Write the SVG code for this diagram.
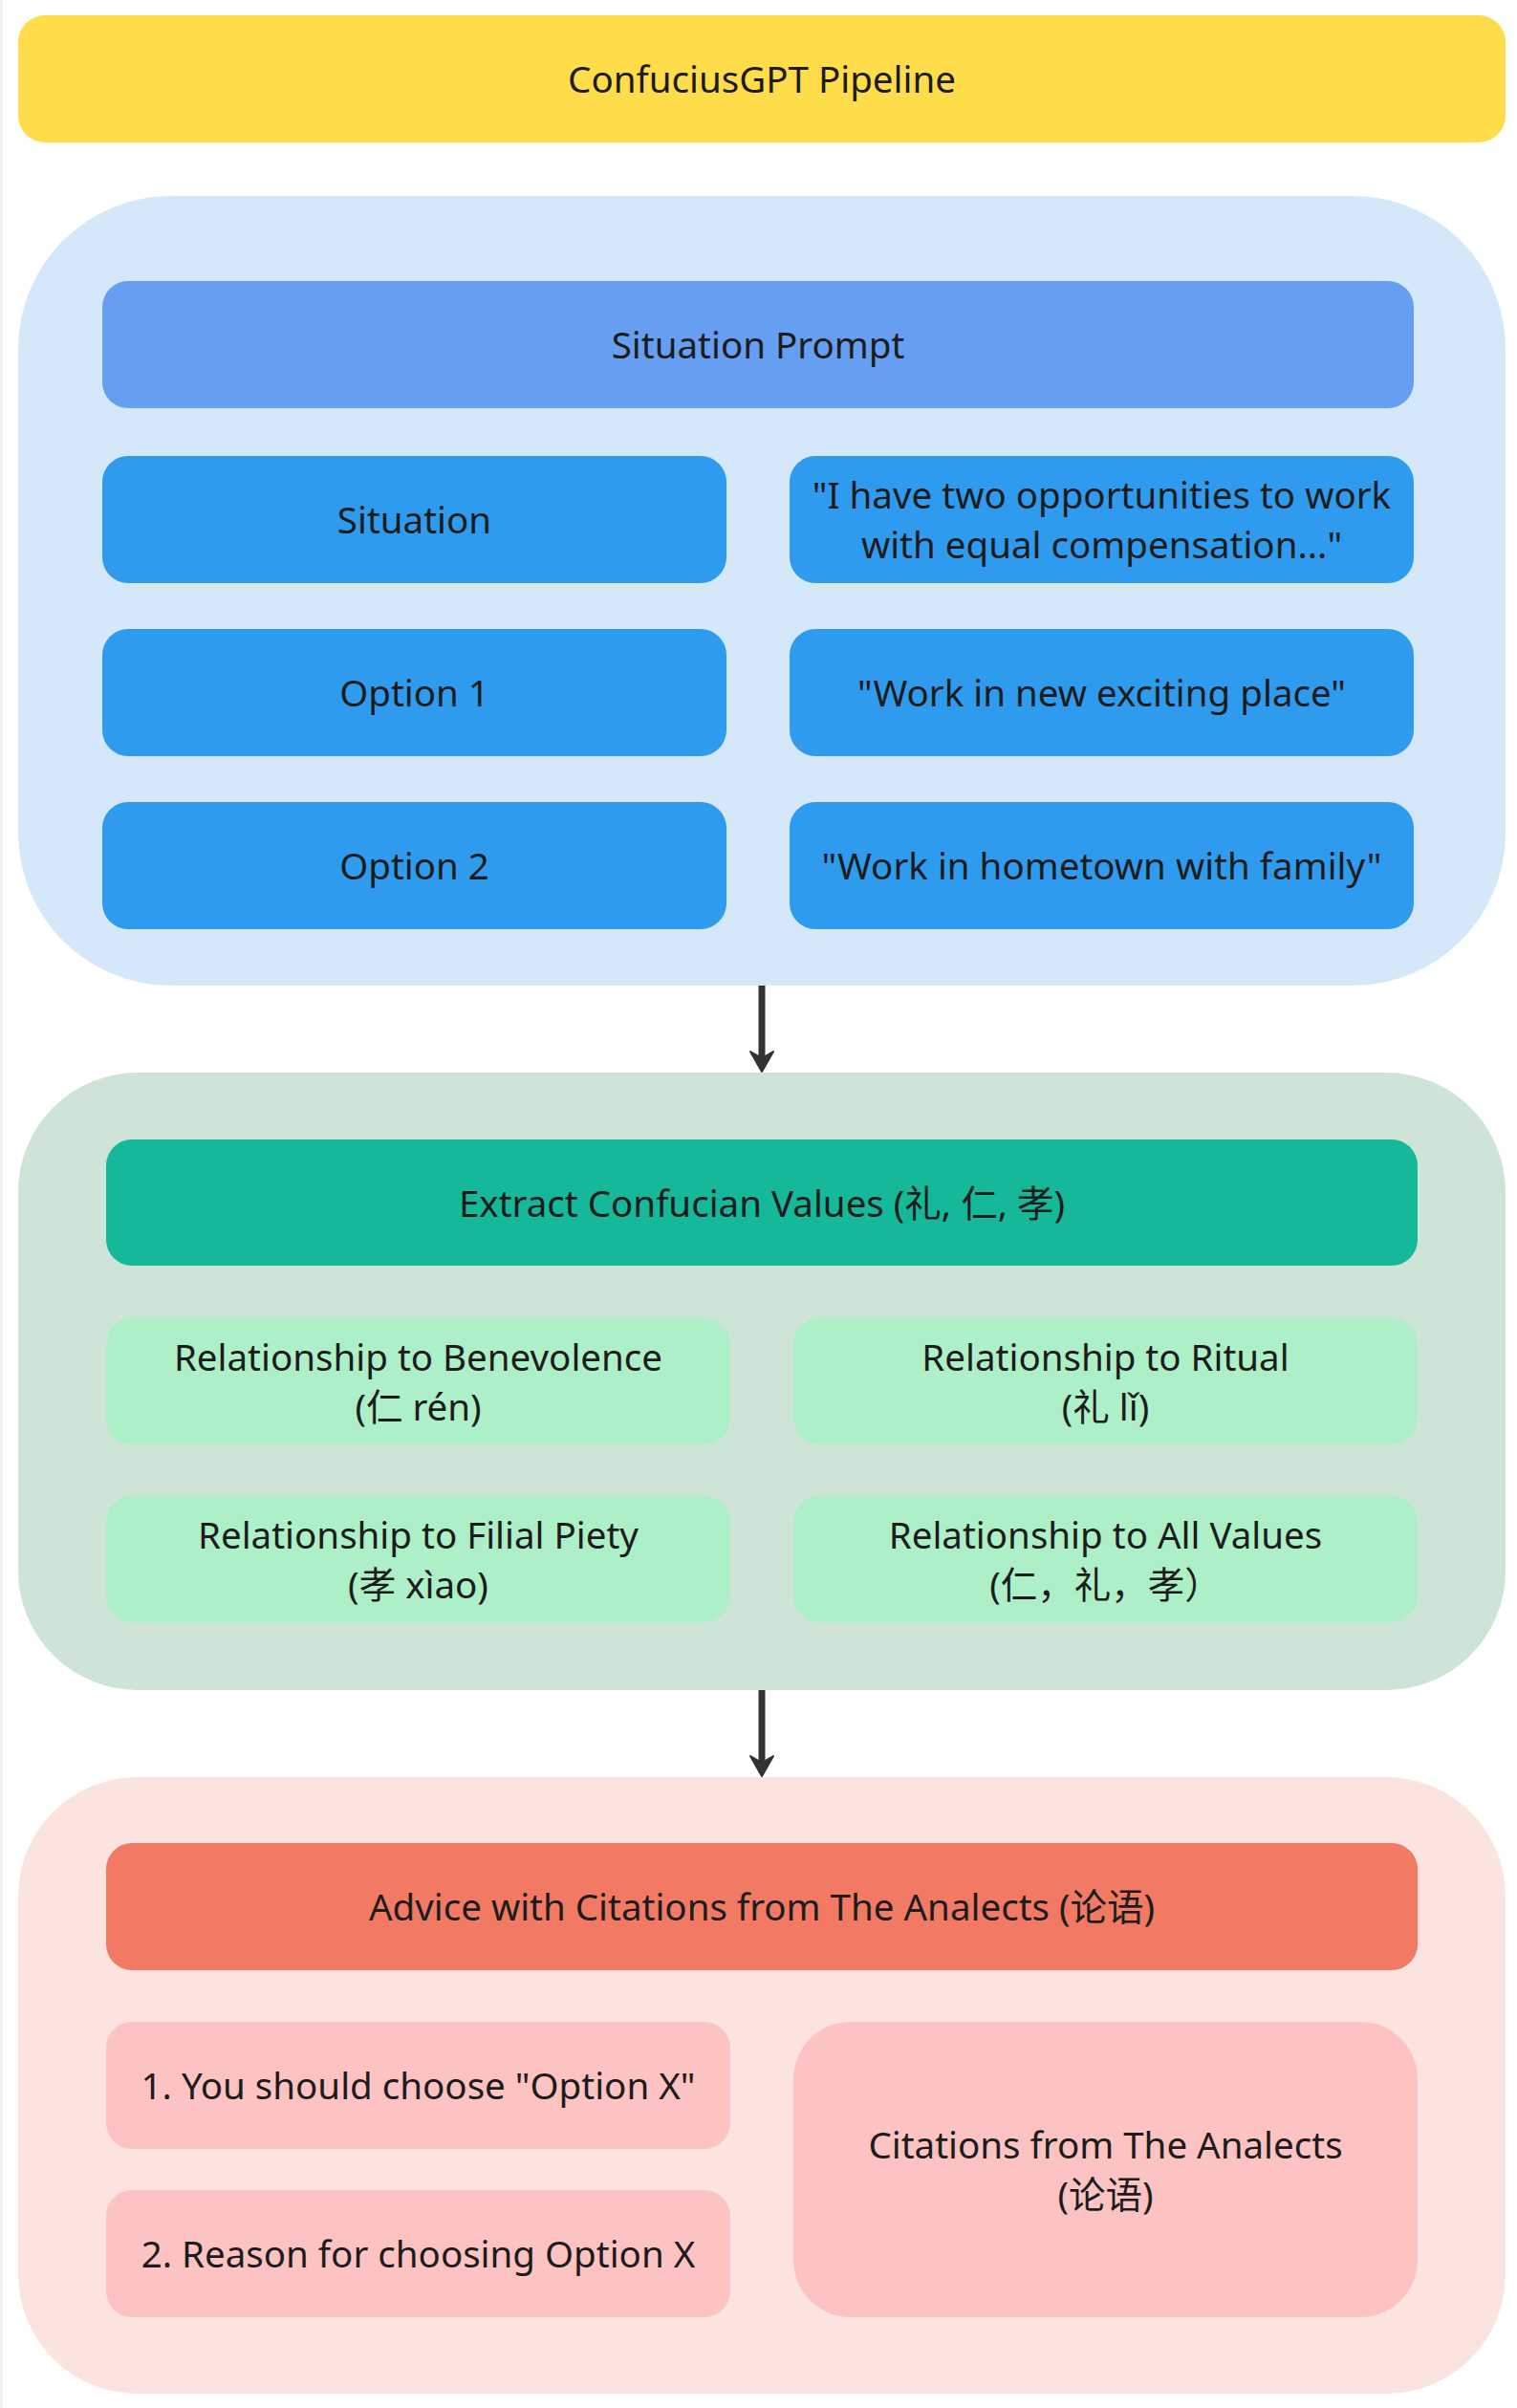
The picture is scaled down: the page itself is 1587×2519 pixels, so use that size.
<svg xmlns="http://www.w3.org/2000/svg" width="1587" height="2519" viewBox="0 0 1587 2519">
  <style>
    .t { font-family: "Noto Sans", "Noto Sans CJK SC", "Open Sans", sans-serif; font-size: 38.5px; fill: #1c1c1c; text-anchor: middle; }
    .conn { stroke: #333333; stroke-width: 7; fill: none; }
    .head { fill: #333333; stroke: #333333; stroke-width: 2; stroke-linejoin: round; }
  </style>
  <rect x="0" y="0" width="1587" height="2519" fill="#ffffff"/>
  <rect x="0" y="0" width="3" height="2519" fill="#f2f2f2"/>

  <g id="title">
    <rect x="19" y="16" width="1556" height="133" rx="28" fill="#FFDC4A"/>
    <text class="t" x="797" y="97">ConfuciusGPT Pipeline</text>
  </g>

  <g id="situation-group">
    <rect x="19" y="205" width="1556" height="826" rx="160" fill="#D4E8F9"/>
  </g>
  <g id="situation-prompt">
    <rect x="107" y="294" width="1372" height="133" rx="27" fill="#669EF1"/>
    <text class="t" x="793" y="375">Situation Prompt</text>
  </g>
  <g id="situation">
    <rect x="107" y="477" width="653" height="133" rx="27" fill="#2F9BEF"/>
    <text class="t" x="433.5" y="558">Situation</text>
  </g>
  <g id="situation-text">
    <rect x="826" y="477" width="653" height="133" rx="27" fill="#2F9BEF"/>
    <text class="t" x="1152.5" y="532">"I have two opportunities to work</text>
    <text class="t" x="1152.5" y="584">with equal compensation..."</text>
  </g>
  <g id="option1">
    <rect x="107" y="658" width="653" height="133" rx="27" fill="#2F9BEF"/>
    <text class="t" x="433.5" y="739">Option 1</text>
  </g>
  <g id="option1-text">
    <rect x="826" y="658" width="653" height="133" rx="27" fill="#2F9BEF"/>
    <text class="t" x="1152.5" y="739">"Work in new exciting place"</text>
  </g>
  <g id="option2">
    <rect x="107" y="839" width="653" height="133" rx="27" fill="#2F9BEF"/>
    <text class="t" x="433.5" y="920">Option 2</text>
  </g>
  <g id="option2-text">
    <rect x="826" y="839" width="653" height="133" rx="27" fill="#2F9BEF"/>
    <text class="t" x="1152.5" y="920">"Work in hometown with family"</text>
  </g>

  <g id="values-group">
    <rect x="19" y="1122" width="1556" height="646" rx="125" fill="#CEE4D6"/>
  </g>
  <g id="extract">
    <rect x="111" y="1192" width="1372" height="132" rx="27" fill="#15B898"/>
    <text class="t" x="797" y="1273">Extract Confucian Values (礼, 仁, 孝)</text>
  </g>
  <g id="benevolence">
    <rect x="111" y="1379" width="653" height="132" rx="27" fill="#ADF0C8"/>
    <text class="t" x="437.5" y="1434">Relationship to Benevolence</text>
    <text class="t" x="437.5" y="1486">(仁 rén)</text>
  </g>
  <g id="ritual">
    <rect x="830" y="1379" width="653" height="132" rx="27" fill="#ADF0C8"/>
    <text class="t" x="1156.5" y="1434">Relationship to Ritual</text>
    <text class="t" x="1156.5" y="1486">(礼 lǐ)</text>
  </g>
  <g id="filial-piety">
    <rect x="111" y="1565" width="653" height="132" rx="27" fill="#ADF0C8"/>
    <text class="t" x="437.5" y="1620">Relationship to Filial Piety</text>
    <text class="t" x="437.5" y="1672">(孝 xìao)</text>
  </g>
  <g id="all-values">
    <rect x="830" y="1565" width="653" height="132" rx="27" fill="#ADF0C8"/>
    <text class="t" x="1156.5" y="1620">Relationship to All Values</text>
    <text class="t" x="1156.5" y="1672">(仁，礼，孝）</text>
  </g>

  <g id="advice-group">
    <rect x="19" y="1859" width="1556" height="645" rx="125" fill="#FBE3DF"/>
  </g>
  <g id="advice">
    <rect x="111" y="1928" width="1372" height="133" rx="27" fill="#F27A64"/>
    <text class="t" x="797" y="2009">Advice with Citations from The Analects (论语)</text>
  </g>
  <g id="choose">
    <rect x="111" y="2115" width="653" height="133" rx="27" fill="#FDC3C3"/>
    <text class="t" x="437.5" y="2196">1. You should choose "Option X"</text>
  </g>
  <g id="reason">
    <rect x="111" y="2291" width="653" height="133" rx="27" fill="#FDC3C3"/>
    <text class="t" x="437.5" y="2372">2. Reason for choosing Option X</text>
  </g>
  <g id="citations">
    <rect x="830" y="2115" width="653" height="309" rx="60" fill="#FDC3C3"/>
    <text class="t" x="1156.5" y="2258">Citations from The Analects</text>
    <text class="t" x="1156.5" y="2310">(论语)</text>
  </g>

  <g id="connectors">
    <line class="conn" x1="797" y1="1031" x2="797" y2="1106"/>
    <path class="head" d="M797,1121 L785,1100 L797,1107 L809,1100 Z"/>
    <line class="conn" x1="797" y1="1768" x2="797" y2="1843"/>
    <path class="head" d="M797,1858 L785,1837 L797,1844 L809,1837 Z"/>
  </g>
</svg>
